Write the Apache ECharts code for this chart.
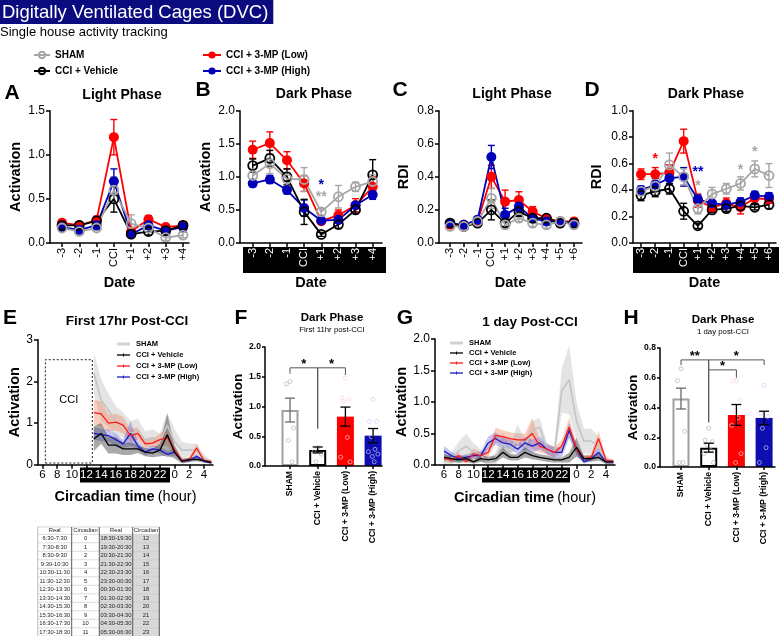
<!DOCTYPE html>
<html>
<head>
<meta charset="utf-8">
<script src="https://cdn.jsdelivr.net/npm/echarts@6.0.0/dist/echarts.min.js"></script>
<style>html,body{margin:0;padding:0;background:#fff;}#chart{width:784px;height:636px;}</style>
</head>
<body>
<div id="chart"></div>
<script>
// ---------------- DATA ----------------
const groupNames = ['SHAM', 'CCI + Vehicle', 'CCI + 3-MP (Low)', 'CCI + 3-MP (High)'];
const datesShort = ['-3', '-2', '-1', 'CCI', '+1', '+2', '+3', '+4'];
const datesLong = ['-3', '-2', '-1', 'CCI', '+1', '+2', '+3', '+4', '+5', '+6'];

// A: Light phase activation
const A_sham = [0.17, 0.13, 0.17, 0.60, 0.22, 0.17, 0.06, 0.09];
const A_veh  = [0.20, 0.20, 0.25, 0.50, 0.10, 0.13, 0.14, 0.20];
const A_low  = [0.23, 0.20, 0.26, 1.20, 0.13, 0.27, 0.18, 0.20];
const A_high = [0.18, 0.15, 0.20, 0.70, 0.10, 0.20, 0.14, 0.18];
const A_sham_err = [0.03, 0.03, 0.03, 0.15, 0.10, 0.04, 0.03, 0.03];
const A_veh_err  = [0.03, 0.03, 0.05, 0.15, 0.03, 0.04, 0.03, 0.04];
const A_low_err  = [0.03, 0.03, 0.04, 0.20, 0.03, 0.04, 0.03, 0.04];
const A_high_err = [0.03, 0.03, 0.04, 0.14, 0.02, 0.04, 0.03, 0.04];

// B: Dark phase activation
const B_sham = [1.02, 1.20, 0.97, 0.96, 0.47, 0.70, 0.85, 0.93];
const B_veh  = [1.17, 1.28, 1.00, 0.47, 0.13, 0.28, 0.50, 1.03];
const B_low  = [1.41, 1.51, 1.25, 0.90, 0.33, 0.42, 0.57, 0.85];
const B_high = [0.90, 0.96, 0.80, 0.53, 0.34, 0.35, 0.57, 0.73];
const B_sham_err = [0.10, 0.15, 0.10, 0.18, 0.05, 0.17, 0.07, 0.10];
const B_veh_err  = [0.10, 0.12, 0.12, 0.19, 0.03, 0.06, 0.05, 0.23];
const B_low_err  = [0.13, 0.17, 0.13, 0.12, 0.04, 0.08, 0.10, 0.15];
const B_high_err = [0.05, 0.06, 0.06, 0.12, 0.03, 0.04, 0.05, 0.07];
const B_starX = [4, 4];
const B_starY = [0.93, 0.75];
const B_starText = ['*', '**'];
const B_starGroup = [3, 0];

// C: Light phase RDI
const C_sham = [0.10, 0.10, 0.13, 0.27, 0.11, 0.15, 0.12, 0.11, 0.13, 0.11];
const C_veh  = [0.12, 0.10, 0.12, 0.20, 0.12, 0.19, 0.15, 0.15, 0.12, 0.12];
const C_low  = [0.11, 0.11, 0.13, 0.40, 0.25, 0.26, 0.19, 0.15, 0.13, 0.13];
const C_high = [0.12, 0.11, 0.14, 0.52, 0.17, 0.22, 0.15, 0.13, 0.13, 0.12];
const C_sham_err = [0.01, 0.01, 0.02, 0.06, 0.02, 0.02, 0.02, 0.02, 0.02, 0.02];
const C_veh_err  = [0.02, 0.01, 0.02, 0.06, 0.02, 0.03, 0.02, 0.02, 0.02, 0.02];
const C_low_err  = [0.02, 0.01, 0.02, 0.07, 0.07, 0.05, 0.03, 0.02, 0.02, 0.02];
const C_high_err = [0.02, 0.01, 0.02, 0.07, 0.04, 0.03, 0.02, 0.02, 0.02, 0.02];

// D: Dark phase RDI
const D_sham = [0.39, 0.43, 0.59, 0.50, 0.26, 0.37, 0.41, 0.45, 0.56, 0.51];
const D_veh  = [0.36, 0.39, 0.41, 0.24, 0.13, 0.25, 0.26, 0.28, 0.27, 0.29];
const D_low  = [0.52, 0.52, 0.53, 0.77, 0.32, 0.27, 0.30, 0.27, 0.34, 0.33];
const D_high = [0.40, 0.44, 0.49, 0.50, 0.33, 0.30, 0.29, 0.31, 0.36, 0.35];
const D_sham_err = [0.03, 0.05, 0.09, 0.06, 0.04, 0.05, 0.04, 0.05, 0.06, 0.09];
const D_veh_err  = [0.04, 0.04, 0.04, 0.06, 0.02, 0.02, 0.02, 0.02, 0.02, 0.03];
const D_low_err  = [0.04, 0.05, 0.06, 0.09, 0.05, 0.03, 0.04, 0.05, 0.04, 0.03];
const D_high_err = [0.03, 0.05, 0.05, 0.07, 0.03, 0.02, 0.02, 0.03, 0.03, 0.03];
const D_starX = [1, 4, 4, 7, 8];
const D_starY = [0.66, 0.56, 0.46, 0.58, 0.71];
const D_starText = ['*', '**', '*', '*', '*'];
const D_starGroup = [2, 3, 0, 0, 0];

// E: first 17 hr post-CCI (circadian hour, continuing past 24)
const E_hours = [13, 14, 15, 16, 17, 18, 19, 20, 21, 22, 23, 24, 25, 26, 27, 28, 29];
const E_sham = [2.20, 1.55, 1.30, 1.05, 0.95, 0.75, 0.80, 0.60, 0.65, 0.55, 0.95, 0.55, 0.35, 0.35, 0.35, 0.15, 0.05];
const E_veh  = [0.62, 0.75, 0.47, 0.47, 0.38, 0.38, 0.38, 0.30, 0.28, 0.35, 0.72, 0.30, 0.08, 0.12, 0.13, 0.10, 0.05];
const E_low  = [1.25, 1.22, 1.00, 1.02, 0.95, 0.70, 0.75, 0.50, 0.52, 0.60, 0.65, 0.35, 0.10, 0.12, 0.40, 0.10, 0.08];
const E_high = [0.75, 0.72, 0.70, 0.60, 0.50, 0.75, 0.45, 0.30, 0.38, 0.35, 0.25, 0.30, 0.10, 0.10, 0.20, 0.08, 0.05];
const E_sham_err = [0.50, 0.50, 0.40, 0.35, 0.30, 0.30, 0.30, 0.20, 0.20, 0.20, 0.30, 0.30, 0.20, 0.15, 0.15, 0.10, 0.05];
const E_veh_err  = [0.30, 0.25, 0.20, 0.20, 0.15, 0.15, 0.10, 0.10, 0.10, 0.15, 0.50, 0.15, 0.05, 0.05, 0.05, 0.05, 0.03];
const E_low_err  = [0.30, 0.30, 0.20, 0.20, 0.20, 0.15, 0.15, 0.10, 0.10, 0.15, 0.20, 0.10, 0.05, 0.05, 0.10, 0.05, 0.03];
const E_high_err = [0.15, 0.15, 0.15, 0.15, 0.10, 0.30, 0.10, 0.08, 0.08, 0.08, 0.08, 0.08, 0.05, 0.05, 0.05, 0.03, 0.03];
const E_cciStart = 6.4, E_cciEnd = 12.8, E_cciTop = 2.52;

// F: dark phase, first 11 hr post-CCI
const F_mean = [0.94, 0.27, 0.83, 0.51];
const F_err  = [0.20, 0.05, 0.16, 0.12];
const F_pts_sham = [1.42, 1.38, 0.64, 0.43, 0.07];
const F_pts_veh  = [0.31, 0.24, 0.20, 0.07];
const F_pts_low  = [1.48, 1.15, 1.12, 1.08, 0.48, 0.15, 0.07];
const F_pts_high = [1.12, 0.75, 0.75, 0.49, 0.28, 0.24, 0.20, 0.16, 0.07];
// brackets: [fromGroup, toGroup, level, leftEnd, rightEnd]
const F_brackets = [[0, 1, 1.65, 1.55, 0.63], [1, 2, 1.65, 0.63, 1.53]];
const F_bracketText = ['*', '*'];

// G: 1 day post-CCI
const G_hours = [6, 7, 8, 9, 10, 11, 12, 13, 14, 15, 16, 17, 18, 19, 20, 21, 22, 23, 24, 25, 26, 27, 28, 29];
const G_sham = [0.05, 0.10, 0.22, 0.30, 0.20, 0.15, 0.05, 0.10, 0.35, 0.20, 0.50, 0.30, 0.55, 0.60, 0.25, 0.20, 1.18, 1.35, 0.70, 0.38, 0.38, 0.30, 0.05, 0.05];
const G_veh  = [0.12, 0.10, 0.08, 0.10, 0.05, 0.10, 0.08, 0.10, 0.20, 0.12, 0.12, 0.20, 0.15, 0.12, 0.10, 0.08, 0.08, 0.12, 0.28, 0.10, 0.10, 0.12, 0.05, 0.05];
const G_low  = [0.10, 0.08, 0.15, 0.05, 0.18, 0.15, 0.20, 0.47, 0.45, 0.42, 0.40, 0.40, 0.50, 0.30, 0.25, 0.20, 0.30, 0.60, 0.25, 0.10, 0.12, 0.42, 0.08, 0.05];
const G_high = [0.22, 0.15, 0.10, 0.12, 0.15, 0.15, 0.35, 0.42, 0.35, 0.33, 0.25, 0.35, 0.30, 0.35, 0.25, 0.20, 0.20, 0.55, 0.25, 0.05, 0.10, 0.20, 0.05, 0.05];
const G_sham_err = [0.05, 0.10, 0.15, 0.20, 0.15, 0.10, 0.05, 0.10, 0.15, 0.10, 0.15, 0.10, 0.15, 0.15, 0.10, 0.10, 0.35, 0.55, 0.30, 0.20, 0.20, 0.15, 0.05, 0.05];
const G_veh_err  = [0.05, 0.05, 0.05, 0.05, 0.03, 0.05, 0.05, 0.05, 0.08, 0.05, 0.05, 0.08, 0.06, 0.05, 0.05, 0.04, 0.04, 0.08, 0.15, 0.05, 0.05, 0.05, 0.03, 0.03];
const G_low_err  = [0.05, 0.05, 0.05, 0.03, 0.08, 0.06, 0.08, 0.12, 0.10, 0.10, 0.10, 0.10, 0.25, 0.10, 0.08, 0.08, 0.10, 0.15, 0.10, 0.05, 0.05, 0.12, 0.05, 0.03];
const G_high_err = [0.08, 0.06, 0.05, 0.05, 0.05, 0.06, 0.10, 0.10, 0.08, 0.08, 0.08, 0.10, 0.10, 0.10, 0.08, 0.08, 0.08, 0.12, 0.08, 0.03, 0.04, 0.08, 0.03, 0.03];

// H: dark phase, 1 day post-CCI
const H_mean = [0.46, 0.13, 0.35, 0.33];
const H_err  = [0.07, 0.03, 0.07, 0.045];
const H_pts_sham = [0.66, 0.58, 0.24, 0.03, 0.03];
const H_pts_veh  = [0.26, 0.18, 0.17, 0.15, 0.11, 0.09, 0.03];
const H_pts_low  = [0.58, 0.58, 0.45, 0.38, 0.33, 0.28, 0.09, 0.03];
const H_pts_high = [0.55, 0.36, 0.34, 0.26, 0.13, 0.03];
const H_brackets = [[0, 1, 0.72, 0.685, 0.30], [1, 3, 0.72, 0.30, 0.685], [1, 2, 0.653, 0.653, 0.60]];
const H_bracketText = ['**', '*', '*'];

// circadian tick labels
const circTicks = [6, 8, 10, 12, 14, 16, 18, 20, 22, 24, 26, 28];

// conversion table
const tblHeader = ['Real', 'Circadian', 'Real', 'Circadian'];
const tblReal1 = ['6:30-7:30', '7:30-8:30', '8:30-9:30', '9:30-10:30', '10:30-11:30', '11:30-12:30', '12:30-13:30', '13:30-14:30', '14:30-15:30', '15:30-16:30', '16:30-17:30', '17:30-18:30'];
const tblCirc1 = ['0', '1', '2', '3', '4', '5', '6', '7', '8', '9', '10', '11'];
const tblReal2 = ['18:30-19:30', '19:30-20:30', '20:30-21:30', '21:30-22:30', '22:30-23:30', '23:30-00:30', '00:30-01:30', '01:30-02:30', '02:30-03:30', '03:30-04:30', '04:30-05:30', '05:30-06:30'];
const tblCirc2 = ['12', '13', '14', '15', '16', '17', '18', '19', '20', '21', '22', '23'];

// ---------------- STYLE / LAYOUT ----------------
const FONT = 'Liberation Sans, Arial, Helvetica, sans-serif';
const COL = ['#a6a6a6', '#000000', '#ff0000', '#0000b8'];
const OPEN = [true, true, false, false];
const LINE_COL = ['#c4c4c4', '#000000', '#ff1a1a', '#1a1ac8'];
const BAND_COL = ['rgba(195,195,195,0.45)', 'rgba(50,50,50,0.42)', 'rgba(245,130,90,0.38)', 'rgba(90,90,210,0.35)'];
const BAR_FILL = ['#ffffff', '#ffffff', '#ff0000', '#0d0db0'];
const BAR_BORDER = ['#a0a0a0', '#000000', '#ff0000', '#0d0db0'];
const PT_COL = ['#b5b5b5', '#b5b5b5', 'rgba(255,210,210,0.95)', 'rgba(205,205,255,0.95)'];
const ERRBAR_COL = ['#6a6a6a', '#000000', '#000000', '#000000'];
const drawOrder = [2, 3, 1, 0];

const linePanels = [
  {cats: datesShort, means: [A_sham, A_veh, A_low, A_high], errs: [A_sham_err, A_veh_err, A_low_err, A_high_err],
   left: 50, first: 62, step: 17.29, end: 189, ymax: 1.5, yint: 0.5, yname: 'Activation', ngap: 27, dark: false},
  {cats: datesShort, means: [B_sham, B_veh, B_low, B_high], errs: [B_sham_err, B_veh_err, B_low_err, B_high_err],
   left: 240, first: 252.7, step: 17.14, end: 382, ymax: 2.0, yint: 0.5, yname: 'Activation', ngap: 27, dark: true},
  {cats: datesLong, means: [C_sham, C_veh, C_low, C_high], errs: [C_sham_err, C_veh_err, C_low_err, C_high_err],
   left: 439, first: 450, step: 13.78, end: 582, ymax: 0.8, yint: 0.2, yname: 'RDI', ngap: 28, dark: false},
  {cats: datesLong, means: [D_sham, D_veh, D_low, D_high], errs: [D_sham_err, D_veh_err, D_low_err, D_high_err],
   left: 633, first: 641, step: 14.22, end: 776, ymax: 1.0, yint: 0.2, yname: 'RDI', ngap: 29, dark: true}
];
const TOP_ROW = {top: 110.7, height: 132.3};

const grids = [], xAxes = [], yAxes = [], series = [];
const axisLineStyle = {color: '#000', width: 1.5};

function errRender(color, cap, lw) {
  return function (params, api) {
    const x = api.value(0), y = api.value(1), e = api.value(2);
    const t = api.coord([x, y + e]);
    const b = api.coord([x, Math.max(0, y - e)]);
    const st = {stroke: color, lineWidth: lw};
    return {type: 'group', children: [
      {type: 'line', shape: {x1: t[0], y1: t[1], x2: b[0], y2: b[1]}, style: st},
      {type: 'line', shape: {x1: t[0] - cap, y1: t[1], x2: t[0] + cap, y2: t[1]}, style: st},
      {type: 'line', shape: {x1: b[0] - cap, y1: b[1], x2: b[0] + cap, y2: b[1]}, style: st}
    ]};
  };
}
function starSeries(gi, xs, ys, texts, groups) {
  return {type: 'custom', xAxisIndex: gi, yAxisIndex: gi, silent: true, z: 6,
    data: xs.map((x, i) => [x, ys[i]]),
    renderItem: function (params, api) {
      const p = api.coord([api.value(0), api.value(1)]);
      return {type: 'text', x: p[0], y: p[1] + 3.5, style: {text: texts[params.dataIndex], fill: COL[groups[params.dataIndex]],
        fontSize: 14, fontWeight: 'bold', fontFamily: FONT, align: 'center', verticalAlign: 'middle'}};
    }};
}
function bracketSeries(gi, brackets, texts) {
  return {type: 'custom', xAxisIndex: gi, yAxisIndex: gi, silent: true, z: 6,
    data: brackets,
    renderItem: function (params, api) {
      const x0 = api.value(0), x1 = api.value(1), lv = api.value(2), d0 = api.value(3), d1 = api.value(4);
      const a = api.coord([x0, d0]), b = api.coord([x0, lv]), c = api.coord([x1, lv]), d = api.coord([x1, d1]);
      const m = api.coord([(x0 + x1) / 2, lv]);
      return {type: 'group', children: [
        {type: 'polyline', shape: {points: [a, b, c, d]}, style: {stroke: '#555', lineWidth: 1, fill: null}},
        {type: 'text', x: m[0], y: m[1] - 3, style: {text: texts[params.dataIndex], fill: '#000', fontSize: 13,
          fontWeight: 'bold', fontFamily: FONT, align: 'center', verticalAlign: 'middle'}}
      ]};
    }};
}
function bandRender(color) {
  return function (params, api) {
    if (params.dataIndexInside !== 0) return null;
    const n = params.dataInsideLength, up = [], lo = [];
    for (let i = 0; i < n; i++) {
      const x = api.value(0, i), m = api.value(1, i), e = api.value(2, i);
      up.push(api.coord([x, m + e]));
      lo.push(api.coord([x, Math.max(0, m - e)]));
    }
    return {type: 'polygon', shape: {points: up.concat(lo.reverse())}, style: {fill: color}};
  };
}

// --- line panels A-D
linePanels.forEach((p, gi) => {
  grids.push({left: p.left, top: TOP_ROW.top, width: p.end - p.left, height: TOP_ROW.height, outerBoundsMode: 'none'});
  const idx = p.cats.map((c, i) => i);
  xAxes.push({type: 'value', gridIndex: gi, min: -(p.first - p.left) / p.step, max: (p.end - p.first) / p.step, z: 10,
    splitLine: {show: false}, axisLine: {onZero: false, lineStyle: axisLineStyle},
    axisTick: {customValues: idx, length: 4, lineStyle: axisLineStyle},
    axisLabel: {customValues: idx, formatter: v => p.cats[Math.round(v)], rotate: 90, fontSize: 11, margin: 5,
      color: p.dark ? '#fff' : '#000', fontFamily: FONT},
    name: 'Date', nameLocation: 'middle', nameGap: 32, nameTextStyle: {fontWeight: 'bold', fontSize: 14.5, color: '#000', fontFamily: FONT}});
  yAxes.push({type: 'value', gridIndex: gi, min: 0, max: p.ymax, interval: p.yint, splitLine: {show: false},
    axisLine: {show: true, onZero: false, lineStyle: axisLineStyle}, axisTick: {show: true, length: 4, lineStyle: axisLineStyle},
    axisLabel: {fontSize: 12, color: '#000', margin: 5, formatter: v => v.toFixed(1), fontFamily: FONT},
    name: p.yname, nameLocation: 'middle', nameGap: p.ngap, nameTextStyle: {fontWeight: 'bold', fontSize: 14.5, color: '#000', fontFamily: FONT}});
  drawOrder.forEach(g => {
    series.push({type: 'line', name: groupNames[g], xAxisIndex: gi, yAxisIndex: gi, z: 3,
      data: p.means[g].map((v, i) => [i, v]), symbol: 'circle', symbolSize: OPEN[g] ? 9 : 10,
      lineStyle: {color: COL[g], width: 1.8},
      itemStyle: OPEN[g] ? {color: 'rgba(255,255,255,0)', borderColor: COL[g], borderWidth: 1.8} : {color: COL[g], borderWidth: 0}});
  });
  drawOrder.forEach(g => {
    series.push({type: 'custom', name: groupNames[g] + ' SEM', xAxisIndex: gi, yAxisIndex: gi, z: 2, silent: true,
      data: p.means[g].map((v, i) => [i, v, p.errs[g][i]]), encode: {x: 0, y: 1},
      renderItem: errRender(COL[g], 3.5, 1.4)});
  });
});
series.push(starSeries(1, B_starX, B_starY, B_starText, B_starGroup));
series.push(starSeries(3, D_starX, D_starY, D_starText, D_starGroup));

// --- time-course panels E (4) and G (6)
const circName = '{b|Circadian time} {n|(hour)}';
const circNameStyle = {rich: {b: {fontWeight: 'bold', fontSize: 14.5, color: '#000', fontFamily: FONT},
                              n: {fontSize: 14.5, color: '#000', fontFamily: FONT}}};
function timeAxes(gi, left, top, width, height, xmin, xmax, ymax, yint, dec, ngap) {
  grids[gi] = {left, top, width, height, outerBoundsMode: 'none'};
  xAxes[gi] = {type: 'value', gridIndex: gi, min: xmin, max: xmax, z: 10, splitLine: {show: false},
    axisLine: {onZero: false, lineStyle: axisLineStyle}, axisTick: {customValues: circTicks, length: 4, lineStyle: axisLineStyle},
    axisLabel: {customValues: circTicks, formatter: v => String(v % 24), fontSize: 11.5, margin: 4, fontFamily: FONT,
      color: v => (v >= 12 && v <= 22) ? '#fff' : '#000'},
    name: circName, nameLocation: 'middle', nameGap: 25, nameTextStyle: circNameStyle};
  yAxes[gi] = {type: 'value', gridIndex: gi, min: 0, max: ymax, interval: yint, splitLine: {show: false},
    axisLine: {show: true, onZero: false, lineStyle: axisLineStyle}, axisTick: {show: true, length: 4, lineStyle: axisLineStyle},
    axisLabel: {fontSize: 12, color: '#000', margin: 5, formatter: v => v.toFixed(dec), fontFamily: FONT},
    name: 'Activation', nameLocation: 'middle', nameGap: ngap, nameTextStyle: {fontWeight: 'bold', fontSize: 14.5, color: '#000', fontFamily: FONT}};
}
function timeSeries(gi, hours, means, errs, withCci) {
  [0, 2, 3, 1].forEach(g => {
    series.push({type: 'custom', name: groupNames[g] + ' band', xAxisIndex: gi, yAxisIndex: gi, z: 2, silent: true,
      data: hours.map((h, i) => [h, means[g][i], errs[g][i]]), encode: {x: 0, y: 1}, renderItem: bandRender(BAND_COL[g])});
  });
  [0, 3, 2, 1].forEach(g => {
    const s = {type: 'line', name: groupNames[g], xAxisIndex: gi, yAxisIndex: gi, z: 3, showSymbol: false, symbol: 'none',
      data: hours.map((h, i) => [h, means[g][i]]), lineStyle: {color: LINE_COL[g], width: g === 0 ? 1.6 : 1.3}};
    if (withCci && g === 0) {
      s.markArea = {silent: true, itemStyle: {color: 'rgba(0,0,0,0)', borderColor: '#000', borderWidth: 0.9, borderType: [2, 2]},
        label: {show: true, position: 'inside', offset: [0, -11], color: '#000', fontSize: 11, fontFamily: FONT},
        data: [[{name: 'CCI', coord: [E_cciStart, 0.04]}, {coord: [E_cciEnd, E_cciTop]}]]};
    }
    series.push(s);
  });
}
timeAxes(4, 38, 339.7, 175, 125, 5.4, 29.23, 3, 1, 0, 12);
timeAxes(6, 435, 339, 180, 126, 4.78, 29.23, 2, 0.5, 1, 21);
timeSeries(4, E_hours, [E_sham, E_veh, E_low, E_high], [E_sham_err, E_veh_err, E_low_err, E_high_err], true);
timeSeries(6, G_hours, [G_sham, G_veh, G_low, G_high], [G_sham_err, G_veh_err, G_low_err, G_high_err], false);

// --- bar panels F (5) and H (7)
const jitter = [0, -0.13, 0.13, -0.06, 0.07, -0.17, 0.17, -0.03, 0.04];
function barPanel(gi, left, top, width, height, first, step, ymax, yint, means, errs, pts, brackets, btexts, ngap) {
  grids[gi] = {left, top, width, height, outerBoundsMode: 'none'};
  const idx = [0, 1, 2, 3];
  xAxes[gi] = {type: 'value', gridIndex: gi, min: -(first - left) / step, max: (left + width - first) / step, z: 10,
    splitLine: {show: false}, axisLine: {onZero: false, lineStyle: axisLineStyle},
    axisTick: {customValues: idx, length: 3, lineStyle: axisLineStyle},
    axisLabel: {customValues: idx, formatter: v => groupNames[Math.round(v)], rotate: 90, fontSize: 8.6, fontWeight: 'bold',
      color: '#000', margin: 5, fontFamily: FONT}};
  yAxes[gi] = {type: 'value', gridIndex: gi, min: 0, max: ymax, interval: yint, splitLine: {show: false},
    axisLine: {show: true, onZero: false, lineStyle: axisLineStyle}, axisTick: {show: true, length: 3, lineStyle: axisLineStyle},
    axisLabel: {fontSize: 8.6, fontWeight: 'bold', color: '#000', margin: 4, formatter: v => v.toFixed(1), fontFamily: FONT},
    name: 'Activation', nameLocation: 'middle', nameGap: ngap, nameTextStyle: {fontWeight: 'bold', fontSize: 13.5, color: '#000', fontFamily: FONT}};
  series.push({type: 'bar', xAxisIndex: gi, yAxisIndex: gi, barWidth: 17, z: 2, silent: true,
    data: means.map((v, i) => ({value: [i, v], itemStyle: {color: BAR_FILL[i], borderColor: BAR_BORDER[i], borderWidth: i < 2 ? 2 : 0}}))});
  pts.forEach((arr, g) => {
    series.push({type: 'scatter', xAxisIndex: gi, yAxisIndex: gi, z: 3, silent: true, symbol: 'circle', symbolSize: 4,
      data: arr.map((v, i) => [g + jitter[i % jitter.length], v]),
      itemStyle: {color: 'rgba(255,255,255,0)', borderColor: PT_COL[g], borderWidth: 0.9}});
  });
  means.forEach((v, g) => {
    series.push({type: 'custom', xAxisIndex: gi, yAxisIndex: gi, z: 4, silent: true,
      data: [[g, v, errs[g]]], encode: {x: 0, y: 1}, renderItem: errRender(ERRBAR_COL[g], 5, 1.3)});
  });
  series.push(bracketSeries(gi, brackets, btexts));
}
barPanel(5, 265, 347, 117, 119, 290, 27.7, 2, 0.5, F_mean, F_err, [F_pts_sham, F_pts_veh, F_pts_low, F_pts_high], F_brackets, F_bracketText, 17);
barPanel(7, 660, 348, 115, 119, 681, 27.7, 0.8, 0.2, H_mean, H_err, [H_pts_sham, H_pts_veh, H_pts_low, H_pts_high], H_brackets, H_bracketText, 19);

// ---------------- TITLES ----------------
function ptitle(text, cx, cy, size, bold) {
  return {text, left: cx, top: cy - size * 0.58, textAlign: 'center', padding: 0,
    textStyle: {fontSize: size, fontWeight: bold ? 'bold' : 'normal', color: '#000', fontFamily: FONT}};
}
const panelLetters = [['A', 12, 95], ['B', 203, 92], ['C', 400, 92], ['D', 592, 92], ['E', 10, 320], ['F', 241, 320], ['G', 405, 320], ['H', 631, 320]];
const titles = [
  {text: 'Digitally Ventilated Cages (DVC)', left: 0, top: 0, padding: [2, 5, 1, 2], backgroundColor: '#0b0b80',
   textStyle: {color: '#fff', fontSize: 18.5, fontWeight: 'normal', lineHeight: 21, fontFamily: FONT}},
  {text: 'Single house activity tracking', left: 0, top: 26, padding: 0, textStyle: {fontSize: 13, fontWeight: 'normal', color: '#000', fontFamily: FONT}},
  ptitle('Light Phase', 122, 96, 14, true), ptitle('Dark Phase', 314, 95, 14, true),
  ptitle('Light Phase', 512, 95, 14, true), ptitle('Dark Phase', 706, 95, 14, true),
  ptitle('First 17hr Post-CCI', 127, 322, 13.5, true), ptitle('1 day Post-CCI', 530, 323, 13.5, true),
  ptitle('Dark Phase', 332, 318, 11.5, true), ptitle('First 11hr post-CCI', 332, 330, 7.8, false),
  ptitle('Dark Phase', 723, 320, 11.5, true), ptitle('1 day post-CCI', 723, 332, 7.8, false)
].concat(panelLetters.map(l => ptitle(l[0], l[1], l[2], 21, true)));

// ---------------- GRAPHICS ----------------
const gfx = [];
// black "dark phase" label boxes
[[243, 247, 143, 26], [633, 247, 146, 26], [80, 467.5, 90, 15], [482, 467.5, 88, 15]].forEach(r => {
  gfx.push({type: 'rect', z: 1, silent: true, shape: {x: r[0], y: r[1], width: r[2], height: r[3]}, style: {fill: '#000'}});
});
// in-plot legends for E and G
function miniLegend(x0, y0, gap) {
  groupNames.forEach((n, g) => {
    const y = y0 + g * gap;
    gfx.push({type: 'line', z: 5, silent: true, shape: {x1: x0, y1: y, x2: x0 + 13, y2: y},
      style: {stroke: g === 0 ? '#d2d2d2' : LINE_COL[g], lineWidth: g === 0 ? 3 : 1.3}});
    if (g > 0) gfx.push({type: 'line', z: 5, silent: true, shape: {x1: x0 + 6.5, y1: y - 1.5, x2: x0 + 6.5, y2: y + 1.5},
      style: {stroke: LINE_COL[g], lineWidth: 1}});
    gfx.push({type: 'text', z: 5, silent: true, x: x0 + 19, y: y,
      style: {text: n, fill: '#000', fontSize: 7.5, fontWeight: 'bold', fontFamily: FONT, align: 'left', verticalAlign: 'middle'}});
  });
}
miniLegend(117, 344, 11);
miniLegend(450, 343, 10);
// conversion table
const tx = [37.7, 71.7, 99.3, 132.7, 159.3];
const tyHead = 527, tyBody = 534.3, rowH = 8.5;
const tBottom = tyBody + tblCirc1.length * rowH;
gfx.push({type: 'rect', z: 1, silent: true, shape: {x: tx[0], y: tyHead, width: tx[4] - tx[0], height: tBottom - tyHead}, style: {fill: '#fff', stroke: '#b8b8b8', lineWidth: 0.6}});
gfx.push({type: 'rect', z: 1, silent: true, shape: {x: tx[2], y: tyBody, width: tx[4] - tx[2], height: tBottom - tyBody}, style: {fill: '#d9d9d9'}});
for (let r = 0; r <= tblCirc1.length; r++) {
  const y = tyBody + r * rowH;
  gfx.push({type: 'line', z: 2, silent: true, shape: {x1: tx[0], y1: y, x2: tx[4], y2: y}, style: {stroke: '#c4c4c4', lineWidth: 0.6}});
}
tx.forEach((x, k) => {
  gfx.push({type: 'line', z: 2, silent: true, shape: {x1: x, y1: tyHead, x2: x, y2: tBottom},
    style: {stroke: (k === 0) ? '#b8b8b8' : '#4a4a4a', lineWidth: (k === 0) ? 0.6 : 0.9}});
});
function cellText(t, k, y) {
  gfx.push({type: 'text', z: 3, silent: true, x: (tx[k] + tx[k + 1]) / 2, y: y,
    style: {text: t, fill: '#222', fontSize: 5.8, fontFamily: FONT, align: 'center', verticalAlign: 'middle'}});
}
tblHeader.forEach((h, k) => cellText(h, k, (tyHead + tyBody) / 2));
tblCirc1.forEach((c, r) => {
  const y = tyBody + (r + 0.5) * rowH;
  cellText(tblReal1[r], 0, y); cellText(c, 1, y); cellText(tblReal2[r], 2, y); cellText(tblCirc2[r], 3, y);
});

// ---------------- CHART ----------------
const chart = echarts.init(document.getElementById('chart'), null, {renderer: 'canvas', width: 784, height: 636});
chart.setOption({
  animation: false,
  backgroundColor: '#fff',
  textStyle: {fontFamily: FONT},
  title: titles,
  legend: [
    {left: 28, top: 45, orient: 'vertical', itemWidth: 16, itemHeight: 8, itemGap: 6, selectedMode: false,
     data: ['SHAM', 'CCI + Vehicle'], textStyle: {fontWeight: 'bold', fontSize: 10, color: '#000', fontFamily: FONT}},
    {left: 197, top: 45, orient: 'vertical', itemWidth: 18, itemHeight: 9, itemGap: 6, selectedMode: false,
     data: ['CCI + 3-MP (Low)', 'CCI + 3-MP (High)'], textStyle: {fontWeight: 'bold', fontSize: 10, color: '#000', fontFamily: FONT}}
  ],
  grid: grids,
  xAxis: xAxes,
  yAxis: yAxes,
  graphic: {elements: gfx},
  series: series
});
</script>
</body>
</html>
